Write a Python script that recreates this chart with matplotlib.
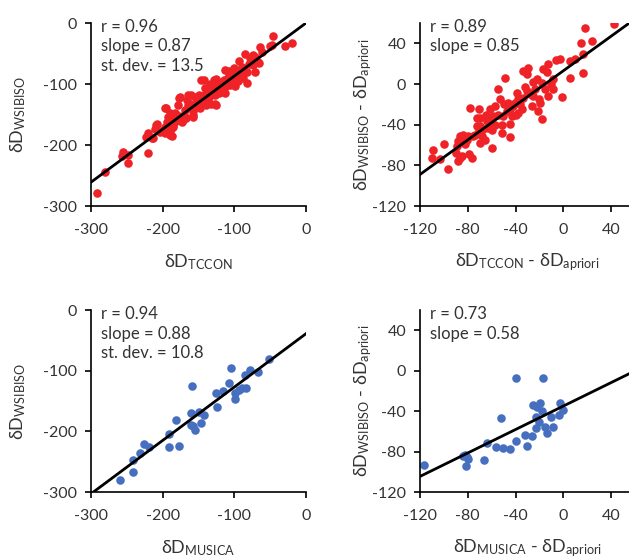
import matplotlib.pyplot as plt
import numpy as np

# fonts: Lato for text, DejaVu as fallback for the greek delta
plt.rcParams['font.family'] = ['Lato', 'DejaVu Sans']
plt.rcParams['mathtext.fontset'] = 'custom'
plt.rcParams['mathtext.rm'] = 'Lato'
plt.rcParams['mathtext.it'] = 'Lato:italic'
plt.rcParams['axes.unicode_minus'] = False

# TCCON vs WSIBISO (absolute)
tccon_x = [-291, -280, -256, -257, -248, -249, -221, -223, -220, -215,
           -209, -204, -195, -192, -190, -185, -187, -180, -177, -173,
           -169, -164, -162, -157, -155, -150, -146, -148, -143, -141,
           -136, -132, -129, -127, -125, -120, -115, -113, -113, -108,
           -106, -101, -97, -94, -92, -87, -85, -83, -78, -74,
           -71, -66, -64, -62, -48, -46, -30, -20, -50, -71,
           -67, -74, -101, -90, -108, -83, -99, -125, -118, -104,
           -129, -143, -136, -122, -111, -99, -150, -139, -127, -160,
           -166, -152, -132, -125, -176, -178, -162, -148, -197, -190,
           -171, -157, -208, -194, -185, -199, -197, -190, -188, -197,
           -186, -183, -174, -165, -158, -160, -211, -213, -170, -153,
           -145, -138, -131, -118, -110, -103, -96, -89, -80, -76,
           -116, -122, -134, -140, -95, -105, -112, -88, -182, -167]
wsibiso_y = [-278, -244, -211, -218, -216, -230, -213, -187, -181, -189,
             -167, -178, -140, -154, -164, -171, -185, -151, -123, -162,
             -143, -118, -132, -151, -121, -137, -93, -126, -129, -107,
             -121, -113, -93, -132, -102, -107, -93, -77, -115, -85,
             -102, -77, -91, -63, -85, -77, -50, -99, -58, -52,
             -80, -66, -39, -47, -36, -22, -37, -32, -37, -55,
             -64, -69, -73, -74, -79, -80, -86, -91, -96, -96,
             -99, -93, -107, -107, -104, -104, -118, -115, -118, -118,
             -126, -128, -132, -134, -121, -134, -137, -140, -139, -148,
             -159, -145, -166, -162, -167, -175, -170, -184, -173, -181,
             -159, -148, -159, -134, -154, -140, -173, -189, -150, -133,
             -120, -126, -110, -100, -92, -88, -80, -72, -68, -62,
             -110, -115, -100, -135, -95, -80, -98, -90, -160, -155]

# TCCON - apriori vs WSIBISO - apriori
tccon_dx = [42, 18, 14.6, 23.8, 16.8, 16.3, 9.8, 5.7, 5.7, -2.7,
            -6, -1.3, -8.3, -8.3, -12.5, -13.9, -12.5, -16.7, -18, -22.2,
            -23.6, -19.5, -18, -21, -25, -29.3, -30.6, -33.4, -32, -30.6,
            -26.4, -33.4, -36.2, -39, -41.8, -37.6, -43.2, -40.4, -48.8, -46,
            -47.4, -44.6, -44.6, -50.2, -51.6, -51.6, -54.4, -53, -57.2, -58.6,
            -61.4, -61.4, -60, -64.1, -62.8, -67, -68.3, -65.5, -69.7, -71,
            -69.7, -72.5, -71, -73.9, -72.5, -69.7, -78.1, -75.3, -79.5, -80.9,
            -83.7, -82.3, -85, -86.5, -87.9, -89.3, -78.7, -76.7, -86.5, -87.9,
            -85, -89.8, -96.3, -99.6, -103.2, -109.4, -109.7, -55, -40, -35,
            -28, -20, -15, -10, -45, -60, -50, -38, -25, -65, -57]
wsibiso_dy = [58.7, 55.5, 40.7, 42.3, 30, 11, 25, 22.6, 6, 25,
              24, -13, 4.5, -4.6, 19.3, 11.7, -12, 14.4, 1.3, 5.2,
              -5.3, -18.4, -34, -26.7, -12, 16, 9.5, 12.7, -3, -7,
              -21.8, -13.5, -20, -8.6, -21.8, -28.3, -31.6, -18.4, 5.5, -18.4,
              -26.7, -39.8, -52, -31.6, -40.8, -48, -5.3, -15, -21.8, -31.6,
              -25, -38, -62.8, -36.5, -43, -44.7, -51.3, -54.6, -41.5, -25,
              -33.2, -33, -46.4, -49.7, -41.5, -57.8, -23.4, -51.3, -51.3, -54.6,
              -49.7, -59.5, -54.6, -51.3, -56.3, -61.2, -68.4, -72.6, -72.6, -76,
              -71, -67.7, -83.5, -59.5, -73.6, -65.4, -72.6, -30, -30, -25,
              -10, -15, -5, 0, -25, -45, -20, -15, 2, -30, -40]

# MUSICA vs WSIBISO (absolute)
musica_x = [-259, -241, -242, -232, -226, -219, -191, -191, -177, -182,
            -159, -161, -160, -157, -155, -150, -146, -143, -125, -124,
            -116, -108, -104, -99, -99, -94, -90, -84, -85, -78,
            -67, -51]
wsibiso2_y = [-280, -267, -248, -235, -221, -225, -204, -225, -224, -181,
              -126, -170, -190, -192, -198, -168, -187, -173, -137, -160,
              -133, -120, -95, -136, -146, -132, -129, -128, -107, -99,
              -102, -80]

# MUSICA - apriori vs WSIBISO - apriori
musica_dx = [-116.4, -84.2, -82.3, -80.4, -79.5, -81.5, -66.4, -63.6, -56.6, -50.7,
             -44.6, -52.1, -39.8, -39.6, -32, -30.6, -26.4, -25.1, -22.2, -22.8,
             -22.8, -19.5, -18, -20, -16.7, -15.3, -13.9, -10.5, -8.8, -2.7,
             -3.3, 0]
wsibiso2_dy = [-93, -84.1, -83.5, -85.1, -87.7, -94, -88.4, -71.3, -75.9, -76.9,
               -77.5, -46.9, -7.7, -69.3, -63.7, -74.6, -64.7, -34.4, -36.4, -45.6,
               -57.1, -31.8, -40, -50.6, -7.1, -56.1, -61.4, -46.2, -56.1, -31.8,
               -44, -39]

# regression lines (slope, intercept) and stats text
fits = [(0.87, 0.0), (0.85, 13.0), (0.88, -39.0), (0.58, -35.0)]
stats = [['r = 0.96', 'slope = 0.87', 'st. dev. = 13.5'],
         ['r = 0.89', 'slope = 0.85'],
         ['r = 0.94', 'slope = 0.88', 'st. dev. = 10.8'],
         ['r = 0.73', 'slope = 0.58']]
xlabels = [r'δD$_{\mathrm{TCCON}}$', r'δD$_{\mathrm{TCCON}}$ - δD$_{\mathrm{apriori}}$',
           r'δD$_{\mathrm{MUSICA}}$', r'δD$_{\mathrm{MUSICA}}$ - δD$_{\mathrm{apriori}}$']
ylabels = [r'δD$_{\mathrm{WSIBISO}}$', r'δD$_{\mathrm{WSIBISO}}$ - δD$_{\mathrm{apriori}}$',
           r'δD$_{\mathrm{WSIBISO}}$', r'δD$_{\mathrm{WSIBISO}}$ - δD$_{\mathrm{apriori}}$']

RED = '#ee2227'
BLUE = '#4670bf'
TXT = '#333333'

W, H = 629, 558
fig = plt.figure(figsize=(W / 100, H / 100), dpi=100)

# axes boxes in pixels: left, top, right, bottom
boxes = [(91, 23, 306, 206), (420, 23, 635, 206),
         (91, 310, 306, 492), (420, 310, 635, 492)]
data = [(tccon_x, wsibiso_y, RED), (tccon_dx, wsibiso_dy, RED),
        (musica_x, wsibiso2_y, BLUE), (musica_dx, wsibiso2_dy, BLUE)]

for i, (l, t, r, b) in enumerate(boxes):
    ax = fig.add_axes([l / W, 1 - b / H, (r - l) / W, (b - t) / H])
    x, y, c = data[i]
    ax.scatter(x, y, s=38, color=c, linewidths=0, zorder=2)
    if i % 2 == 0:
        xlim, ylim = (-300, 0), (-300, 0)
        xt, yt = [-300, -200, -100, 0], [-300, -200, -100, 0]
    else:
        xlim, ylim = (-120, 60), (-120, 60)
        xt, yt = [-120, -80, -40, 0, 40], [-120, -80, -40, 0, 40]
    k, c0 = fits[i]
    xs = np.array(xlim)
    ax.plot(xs, k * xs + c0, color='black', lw=2, zorder=3)
    ax.set_xlim(xlim)
    ax.set_ylim(ylim)
    ax.set_xticks(xt)
    ax.set_yticks(yt)
    for s in ['top', 'right']:
        ax.spines[s].set_visible(False)
    for s in ['left', 'bottom']:
        ax.spines[s].set_linewidth(1.2)
    ax.tick_params(direction='out', length=4, width=1.2, labelsize=11.5,
                   labelcolor=TXT)
    ax.tick_params(axis='x', pad=8)
    ax.tick_params(axis='y', pad=6)
    ax.patch.set_alpha(0)

    # stats text
    for j, s in enumerate(stats[i]):
        fig.text((l + 10) / W, 1 - (t + 4 + 19.5 * j) / H, s, fontsize=12,
                 color=TXT, va='center', ha='left')
    # axis labels
    fig.text((l + r) / 2 / W, 1 - (b + 56) / H, xlabels[i], fontsize=13,
             color=TXT, va='center', ha='center')
    ylx = 18 if i % 2 == 0 else 363
    fig.text(ylx / W, 1 - (t + b) / 2 / H, ylabels[i], fontsize=13,
             color=TXT, va='center', ha='center', rotation=90)

fig.savefig('out.png', dpi=100)
